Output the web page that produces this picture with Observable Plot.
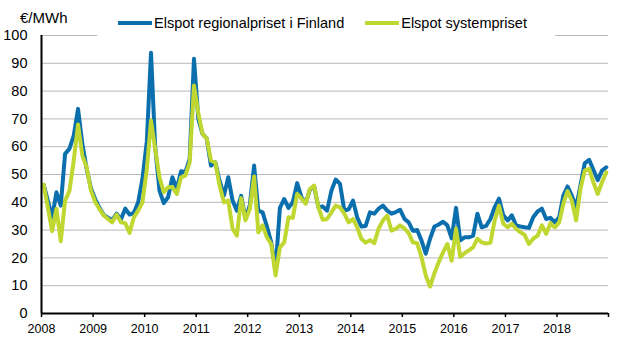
<!DOCTYPE html>
<html><head><meta charset="utf-8">
<script src="https://cdn.jsdelivr.net/npm/d3@7"></script>
<script src="https://cdn.jsdelivr.net/npm/@observablehq/plot@0.6"></script>
<style>
body{margin:0;background:#fff;font-family:"Liberation Sans",Arial,sans-serif;}
#wrap{position:relative;width:631px;height:363px;overflow:hidden;}
#unit{position:absolute;left:20px;top:9px;font-size:15px;color:#000;}
#legend{position:absolute;left:97px;top:9px;width:437px;height:27px;padding-left:21px;background:#fff;display:flex;align-items:center;font-size:14.5px;color:#000;}
.sw{display:inline-block;width:34px;height:4px;margin-right:2px;}
.item{display:flex;align-items:center;margin-right:21px;white-space:nowrap;}
</style></head><body>
<div id="wrap"><div id="chart"></div><div id="unit">€/MWh</div><div id="legend"></div></div>
<script>
const seriesNames = ["Elspot regionalpriset i Finland", "Elspot systempriset"];
const seriesColors = ["#0b6ead", "#bfd730"];
const unitLabel = "€/MWh";
const yearLabels = ["2008","2009","2010","2011","2012","2013","2014","2015","2016","2017","2018",""];
const yTicks = [0,10,20,30,40,50,60,70,80,90,100];
const firstYear = 2008;

const finland = [
46.3, 40.5, 34.6, 43.6, 38.8, 57.4, 59.2, 64, 73.6, 61, 52, 45,
41, 38, 35.5, 34.5, 33.5, 35.9, 33.8, 37.7, 35.6, 36.2, 40, 48.5,
62, 93.8, 60, 44.2, 39.7, 41.8, 49, 44.8, 51.2, 50.8, 55.6, 91.6,
70, 64.6, 63, 53.2, 54.4, 47.8, 42.4, 49, 40.6, 37, 42.3, 34,
39, 53.2, 37, 36.4, 31.3, 25.5, 16, 38, 41.2, 38, 40, 46.9,
41.8, 39.7, 44.5, 45.7, 38.2, 38.5, 37, 44.2, 48.2, 46.6, 37, 37.5,
40.6, 34.6, 31.3, 31.5, 36.4, 35.9, 37.7, 38.8, 37, 35.9, 36.5, 37.3,
34, 32.8, 29.8, 30, 26.3, 21.5, 26.9, 31.3, 32, 33, 31.7, 27,
38, 26.3, 27.4, 27.4, 28, 35.9, 31, 31.5, 34, 38.2, 41.3, 35.3,
33.5, 35.3, 31.7, 31.3, 31, 30.8, 34.6, 36.7, 37.7, 34, 34.4, 32.8,
34.6, 42.4, 45.7, 42.4, 38.2, 46, 54, 55.3, 51.7, 48, 51.4, 52.6];

const systemPrice = [
46.3, 38, 29.6, 37.7, 26, 40.6, 44, 55, 68, 56.8, 52.6, 44.2,
40, 37.5, 35.3, 34, 32.8, 35.6, 32.8, 32.5, 29, 34.6, 37, 40,
52, 69.4, 59.2, 49, 43.6, 45.4, 45.5, 43, 49, 49.6, 54.4, 82,
72, 64.6, 63, 55, 54.4, 46, 40, 40.6, 30.5, 28, 41.5, 33.5,
37.7, 49.3, 29.2, 31.7, 27.4, 25, 13.7, 23.8, 25.6, 34.6, 34.4, 43,
41.3, 39.5, 44.8, 46, 38.2, 33.7, 34, 36.4, 38.8, 38.2, 35.9, 32.8,
34, 31, 26.9, 25.5, 26.4, 25.3, 30.5, 33.5, 35.2, 29.8, 30.5, 31.7,
30.5, 28.9, 25.6, 25.3, 20.3, 13.7, 9.7, 14.5, 18.5, 22, 25, 19,
30.5, 20.3, 21.7, 22.7, 23.8, 26.9, 25.6, 25.2, 25.4, 33.5, 38.8, 32.3,
31, 32.3, 30.5, 29.2, 28.3, 25, 26.9, 28, 31.7, 28.7, 32.5, 31,
32.8, 39.5, 44, 40.6, 33.5, 44.8, 51.4, 52, 47.2, 43, 47.2, 50.8];

// month midpoints
const midMonth = (i) => new Date((Date.UTC(firstYear, i, 1) + Date.UTC(firstYear, i + 1, 1)) / 2);
const rowsF = finland.map((v, i) => ({date: midMonth(i), value: v}));
const rowsS = systemPrice.map((v, i) => ({date: midMonth(i), value: v}));
const yearDates = yearLabels.map((_, k) => new Date(Date.UTC(firstYear + k, 0, 1)));
const xDomain = [yearDates[0], yearDates[yearDates.length - 1]];

const chart = Plot.plot({
  width: 631,
  height: 363,
  marginLeft: 41,
  marginRight: 23,
  marginTop: 35,
  marginBottom: 50,
  style: {fontFamily: '"Liberation Sans", Arial, sans-serif', color: "#000", background: "#fff"},
  x: {type: "utc", domain: xDomain},
  y: {domain: [0, 100]},
  marks: [
    Plot.gridY(yTicks.filter(t => t > 0), {stroke: "#b8b8b8", strokeOpacity: 1, strokeWidth: 1}),
    Plot.line(rowsF, {x: "date", y: "value", stroke: seriesColors[0], strokeWidth: 4, strokeLinejoin: "round"}),
    Plot.line(rowsS, {x: "date", y: "value", stroke: seriesColors[1], strokeWidth: 4, strokeLinejoin: "round"}),
    Plot.ruleY([0], {stroke: "#000", strokeWidth: 2}),
    Plot.ruleX([xDomain[0]], {stroke: "#000", strokeWidth: 2}),
    Plot.axisY({ticks: yTicks, tickSize: 0, tickPadding: 14, fontSize: 14.5, label: null}),
    Plot.axisX({ticks: yearDates, tickSize: 4, tickPadding: 7, fontSize: 12.5, label: null, strokeWidth: 1.5,
      tickFormat: d => yearLabels[d.getUTCFullYear() - firstYear]})
  ]
});
document.getElementById("chart").appendChild(chart);

const legend = document.getElementById("legend");
seriesNames.forEach((name, k) => {
  const item = document.createElement("div");
  item.className = "item";
  const sw = document.createElement("span");
  sw.className = "sw";
  sw.style.background = seriesColors[k];
  const t = document.createElement("span");
  t.textContent = name;
  item.appendChild(sw); item.appendChild(t);
  legend.appendChild(item);
});
document.getElementById("unit").textContent = unitLabel;
</script>
</body></html>
